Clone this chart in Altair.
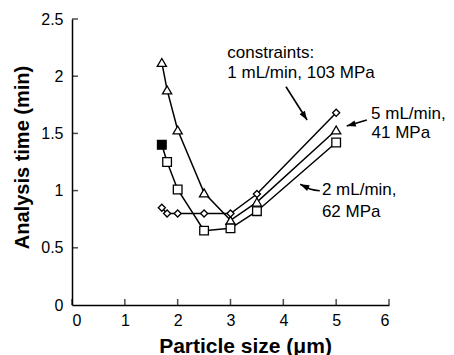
import altair as alt
import pandas as pd

# ---- data ----
particle_size = [1.7, 1.8, 2.0, 2.5, 3.0, 3.5, 5.0]
time_5ml_41mpa = [2.12, 1.88, 1.53, 0.98, 0.74, 0.90, 1.53]   # triangles
time_2ml_62mpa = [1.40, 1.25, 1.01, 0.65, 0.67, 0.82, 1.42]   # squares
time_1ml_103mpa = [0.85, 0.80, 0.80, 0.80, 0.80, 0.97, 1.68]  # diamonds
filled_2ml = [True, False, False, False, False, False, False]

x_ticks = [0, 1, 2, 3, 4, 5, 6]
y_ticks = [0.5, 1.0, 1.5, 2.0, 2.5]

note_labels = ["constraints:", "1 mL/min, 103 MPa", "5 mL/min,", "41 MPa", "2 mL/min,", "62 MPa"]
note_x = [2.94, 2.94, 5.66, 5.67, 4.73, 4.73]
note_y = [2.20, 2.025, 1.67, 1.50, 1.005, 0.81]

arrow_id = ["a1", "a1", "a2", "a2", "a3", "a3", "a3"]
arrow_step = [0, 1, 0, 1, 0, 1, 2]
arrow_x = [4.05, 4.45, 5.58, 5.20, 4.69, 4.52, 4.32]
arrow_y = [1.908, 1.617, 1.617, 1.565, 0.999, 1.011, 1.055]
head_x = [4.45, 5.20, 4.32]
head_y = [1.617, 1.565, 1.055]
head_angle = [147, 254, 295]

FONT = "Liberation Sans"

rows = []
for name, ys, fl in [
    ("5 mL/min, 41 MPa", time_5ml_41mpa, [False] * 7),
    ("2 mL/min, 62 MPa", time_2ml_62mpa, filled_2ml),
    ("1 mL/min, 103 MPa", time_1ml_103mpa, [False] * 7),
]:
    for x, y, f in zip(particle_size, ys, fl):
        rows.append({"x": x, "y": y, "series": name, "filled": f})
df = pd.DataFrame(rows)

xs = alt.Scale(domain=[0, 6], nice=False)
ys_ = alt.Scale(domain=[0, 2.5], nice=False)

X = alt.X("x:Q", scale=xs, axis=alt.Axis(values=x_ticks, format="~g", title="Particle size (\u03bcm)",
                                       titleX=173, titleY=47, titleBaseline="alphabetic",
                                       titleFontSize=21, labelPadding=7))
Y = alt.Y("y:Q", scale=ys_, axis=alt.Axis(values=[0] + y_ticks, format="~g", title="Analysis time (min)",
                                        titleX=-44, titleY=138, titleBaseline="alphabetic",
                                        titleAlign="center", titleFontSize=20, labelPadding=9))

base = alt.Chart(df)
lines = base.mark_line(color="black", strokeWidth=1.5).encode(x=X, y=Y, detail="series:N")


def pts(name, shape, size):
    return base.transform_filter(alt.datum.series == name).mark_point(
        shape=shape, size=size, filled=True, stroke="black", strokeWidth=1.3, opacity=1
    ).encode(
        x=X, y=Y,
        fill=alt.condition("datum.filled", alt.value("black"), alt.value("white")),
    )


p_tri = pts("5 mL/min, 41 MPa", "triangle-up", 85)
p_sq = pts("2 mL/min, 62 MPa", "square", 75)
p_dia = pts("1 mL/min, 103 MPa", "diamond", 50)

xt = alt.Chart(pd.DataFrame({"x": x_ticks})).mark_tick(
    orient="vertical", color="black", thickness=1.5, size=6, yOffset=-3
).encode(x=alt.X("x:Q", scale=xs), y=alt.datum(0))
yt = alt.Chart(pd.DataFrame({"y": y_ticks})).mark_tick(
    orient="horizontal", color="black", thickness=1.5, size=6, xOffset=3
).encode(y=alt.Y("y:Q", scale=ys_), x=alt.datum(0))

notes = alt.Chart(pd.DataFrame({"x": note_x, "y": note_y, "t": note_labels})).mark_text(
    align="left", baseline="middle", font=FONT, fontSize=17, color="black"
).encode(x=alt.X("x:Q", scale=xs), y=alt.Y("y:Q", scale=ys_), text="t:N")

arrows = alt.Chart(pd.DataFrame({"id": arrow_id, "s": arrow_step, "x": arrow_x, "y": arrow_y})).mark_line(
    color="black", strokeWidth=1.6, interpolate="cardinal"
).encode(x=alt.X("x:Q", scale=xs), y=alt.Y("y:Q", scale=ys_), detail="id:N", order="s:Q")

heads = alt.Chart(pd.DataFrame({"x": head_x, "y": head_y, "a": head_angle})).mark_point(
    shape="M0,0L0.7,2L-0.7,2Z", size=81, filled=True, color="black", opacity=1, strokeWidth=0
).encode(x=alt.X("x:Q", scale=xs), y=alt.Y("y:Q", scale=ys_), angle=alt.Angle("a:Q", scale=None))

chart = alt.layer(lines, p_tri, p_sq, p_dia, xt, yt, notes, arrows, heads).properties(
    width=317, height=286,
    autosize=alt.AutoSizeParams(type="none"),
    padding={"left": 64, "top": 11, "right": 57, "bottom": 50},
).configure_view(stroke=None).configure_axis(
    grid=False, ticks=False, domainColor="black", domainWidth=1.5,
    labelFont=FONT, labelFontSize=16, labelColor="black",
    titleFont=FONT, titleFontWeight="bold", titleColor="black",
)

chart.save("out.html", embed_options={"renderer": "svg", "actions": False})
